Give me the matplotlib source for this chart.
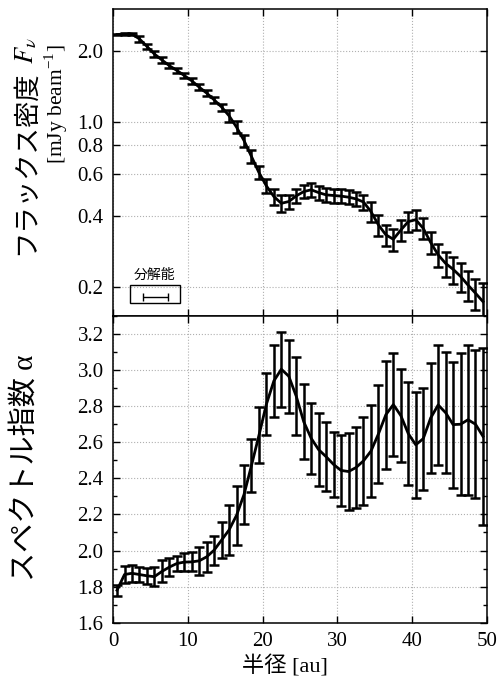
import numpy as np
import matplotlib
matplotlib.use("Agg")
import matplotlib.pyplot as plt
from matplotlib.patches import Rectangle
from matplotlib.ticker import MultipleLocator, FixedLocator, NullLocator, FormatStrFormatter

plt.rcParams['font.family'] = ['Liberation Serif', 'Noto Sans CJK JP']
plt.rcParams['mathtext.fontset'] = 'stix'

# == radial profile data, one point per 1 au bin == #
radius = [0.5, 1.5, 2.5, 3.5, 4.5, 5.5, 6.5, 7.5, 8.5, 9.5,
          10.5, 11.5, 12.5, 13.5, 14.5, 15.5, 16.5, 17.5, 18.5, 19.5,
          20.5, 21.5, 22.5, 23.5, 24.5, 25.5, 26.5, 27.5, 28.5, 29.5,
          30.5, 31.5, 32.5, 33.5, 34.5, 35.5, 36.5, 37.5, 38.5, 39.5,
          40.5, 41.5, 42.5, 43.5, 44.5, 45.5, 46.5, 47.5, 48.5, 49.5]

flux = [2.36, 2.37, 2.37, 2.26, 2.10, 1.95, 1.84, 1.74, 1.66, 1.58,
        1.50, 1.41, 1.33, 1.245, 1.16, 1.065, 0.953, 0.836, 0.715, 0.611,
        0.536, 0.483, 0.452, 0.460, 0.486, 0.507, 0.516, 0.502, 0.491, 0.488,
        0.485, 0.480, 0.472, 0.458, 0.417, 0.366, 0.332, 0.318, 0.348, 0.378,
        0.385, 0.354, 0.308, 0.273, 0.251, 0.237, 0.221, 0.203, 0.1875, 0.1727]

flux_err = [0.02, 0.02, 0.02, 0.057, 0.052, 0.049, 0.046, 0.044, 0.042, 0.040,
            0.045, 0.042, 0.042, 0.040, 0.040, 0.060, 0.055, 0.050, 0.045, 0.040,
            0.038, 0.038, 0.038, 0.032, 0.033, 0.033, 0.034, 0.033, 0.033, 0.033,
            0.033, 0.033, 0.033, 0.034, 0.040, 0.038, 0.035, 0.034, 0.036, 0.037,
            0.037, 0.036, 0.034, 0.031, 0.031, 0.031, 0.031, 0.030, 0.028, 0.035]

alpha = [1.78, 1.867, 1.874, 1.867, 1.860, 1.855, 1.884, 1.908, 1.928, 1.936,
         1.937, 1.943, 1.965, 2.002, 2.058, 2.114, 2.195, 2.310, 2.471, 2.638,
         2.811, 2.940, 3.005, 2.966, 2.855, 2.714, 2.622, 2.559, 2.520, 2.477,
         2.444, 2.438, 2.460, 2.497, 2.551, 2.646, 2.753, 2.809, 2.748, 2.648,
         2.586, 2.620, 2.735, 2.807, 2.764, 2.698, 2.700, 2.725, 2.700, 2.633]

alpha_err = [0.031, 0.048, 0.046, 0.039, 0.044, 0.054, 0.061, 0.051, 0.044, 0.051,
             0.053, 0.077, 0.082, 0.081, 0.100, 0.136, 0.162, 0.163, 0.148, 0.155,
             0.172, 0.198, 0.209, 0.201, 0.216, 0.209, 0.196, 0.202, 0.190, 0.182,
             0.195, 0.215, 0.224, 0.243, 0.254, 0.271, 0.299, 0.286, 0.258, 0.285,
             0.294, 0.283, 0.303, 0.333, 0.334, 0.349, 0.393, 0.415, 0.410, 0.489]

flux_ticks = [0.2, 0.4, 0.6, 0.8, 1.0, 2.0]
beam_x, beam_half = 5.69, 1.67   # resolution bar [au]

W, H = 501, 678
fig = plt.figure(figsize=(W / 100, H / 100), dpi=100)
ax1 = fig.add_axes([113.3 / W, 1 - 316 / H, 373.4 / W, 306.7 / H])
ax2 = fig.add_axes([113.3 / W, 1 - 622.7 / H, 373.4 / W, 306.7 / H], sharex=ax1)

eb = dict(fmt='none', ecolor='black', elinewidth=1.8, capsize=3.5, capthick=1.8, zorder=3)

# Flux density
ax1.plot(radius, flux, color='black', lw=2.0, zorder=4)
ax1.errorbar(radius, flux, yerr=flux_err, **eb)
ax1.set_yscale('log')
ax1.set_ylim(0.15, 3.02)
ax1.yaxis.set_major_locator(FixedLocator(flux_ticks))
ax1.yaxis.set_minor_locator(NullLocator())
ax1.yaxis.set_major_formatter(FormatStrFormatter('%.1f'))
plt.setp(ax1.get_xticklabels(), visible=False)

# resolution box
ax1.add_patch(Rectangle((0.0447, 0.0424), 0.134, 0.059, transform=ax1.transAxes,
                        fill=False, ec='black', lw=1.0, zorder=5))
ax1.errorbar([beam_x], [0.181], xerr=[beam_half], fmt='none', ecolor='black',
             elinewidth=1.0, capsize=3, capthick=1.0, zorder=6)
ax1.text(0.1117, 0.134, '分解能', transform=ax1.transAxes, ha='center', va='center',
         fontsize=10, family='Noto Sans CJK JP')

# Spectral index
ax2.plot(radius, alpha, color='black', lw=2.0, zorder=4)
ax2.errorbar(radius, alpha, yerr=alpha_err, **eb)
ax2.set_ylim(1.6, 3.3)
ax2.yaxis.set_major_locator(MultipleLocator(0.2))
ax2.yaxis.set_minor_locator(MultipleLocator(0.1))
ax2.yaxis.set_major_formatter(FormatStrFormatter('%.1f'))
ax2.set_xlim(0, 50)
ax2.xaxis.set_major_locator(MultipleLocator(10))

for ax in (ax1, ax2):
    ax.grid(True, which='major', ls=':', color='#b0b0b0', lw=0.8)
    ax.tick_params(which='both', direction='in', top=True, right=True,
                   labelsize=15, pad=7, width=1.0)
    ax.tick_params(which='major', length=5)
    ax.tick_params(which='minor', length=3)
    for s in ax.spines.values():
        s.set_linewidth(1.1)


def ftext(x, y, s, **kw):
    return fig.text(x / W, 1 - y / H, s, rotation_mode='anchor', **kw)


ftext(25, 70, 'フラックス密度', rotation=90, ha='right', va='center',
      fontsize=19, family='Noto Sans CJK JP')
ftext(26, 64, r'$F_\nu$', rotation=90, ha='left', va='center', fontsize=19)
ftext(56, 104.5, r'[mJy beam$^{\mathregular{-1}}$]', rotation=90, ha='center',
      va='center', fontsize=15.5)
ftext(25, 468, 'スペクトル指数 α', rotation=90, ha='center', va='center', fontsize=21)
ftext(285, 666, '半径 [au]', ha='center', va='center', fontsize=16)

fig.savefig('out.png', dpi=100)
